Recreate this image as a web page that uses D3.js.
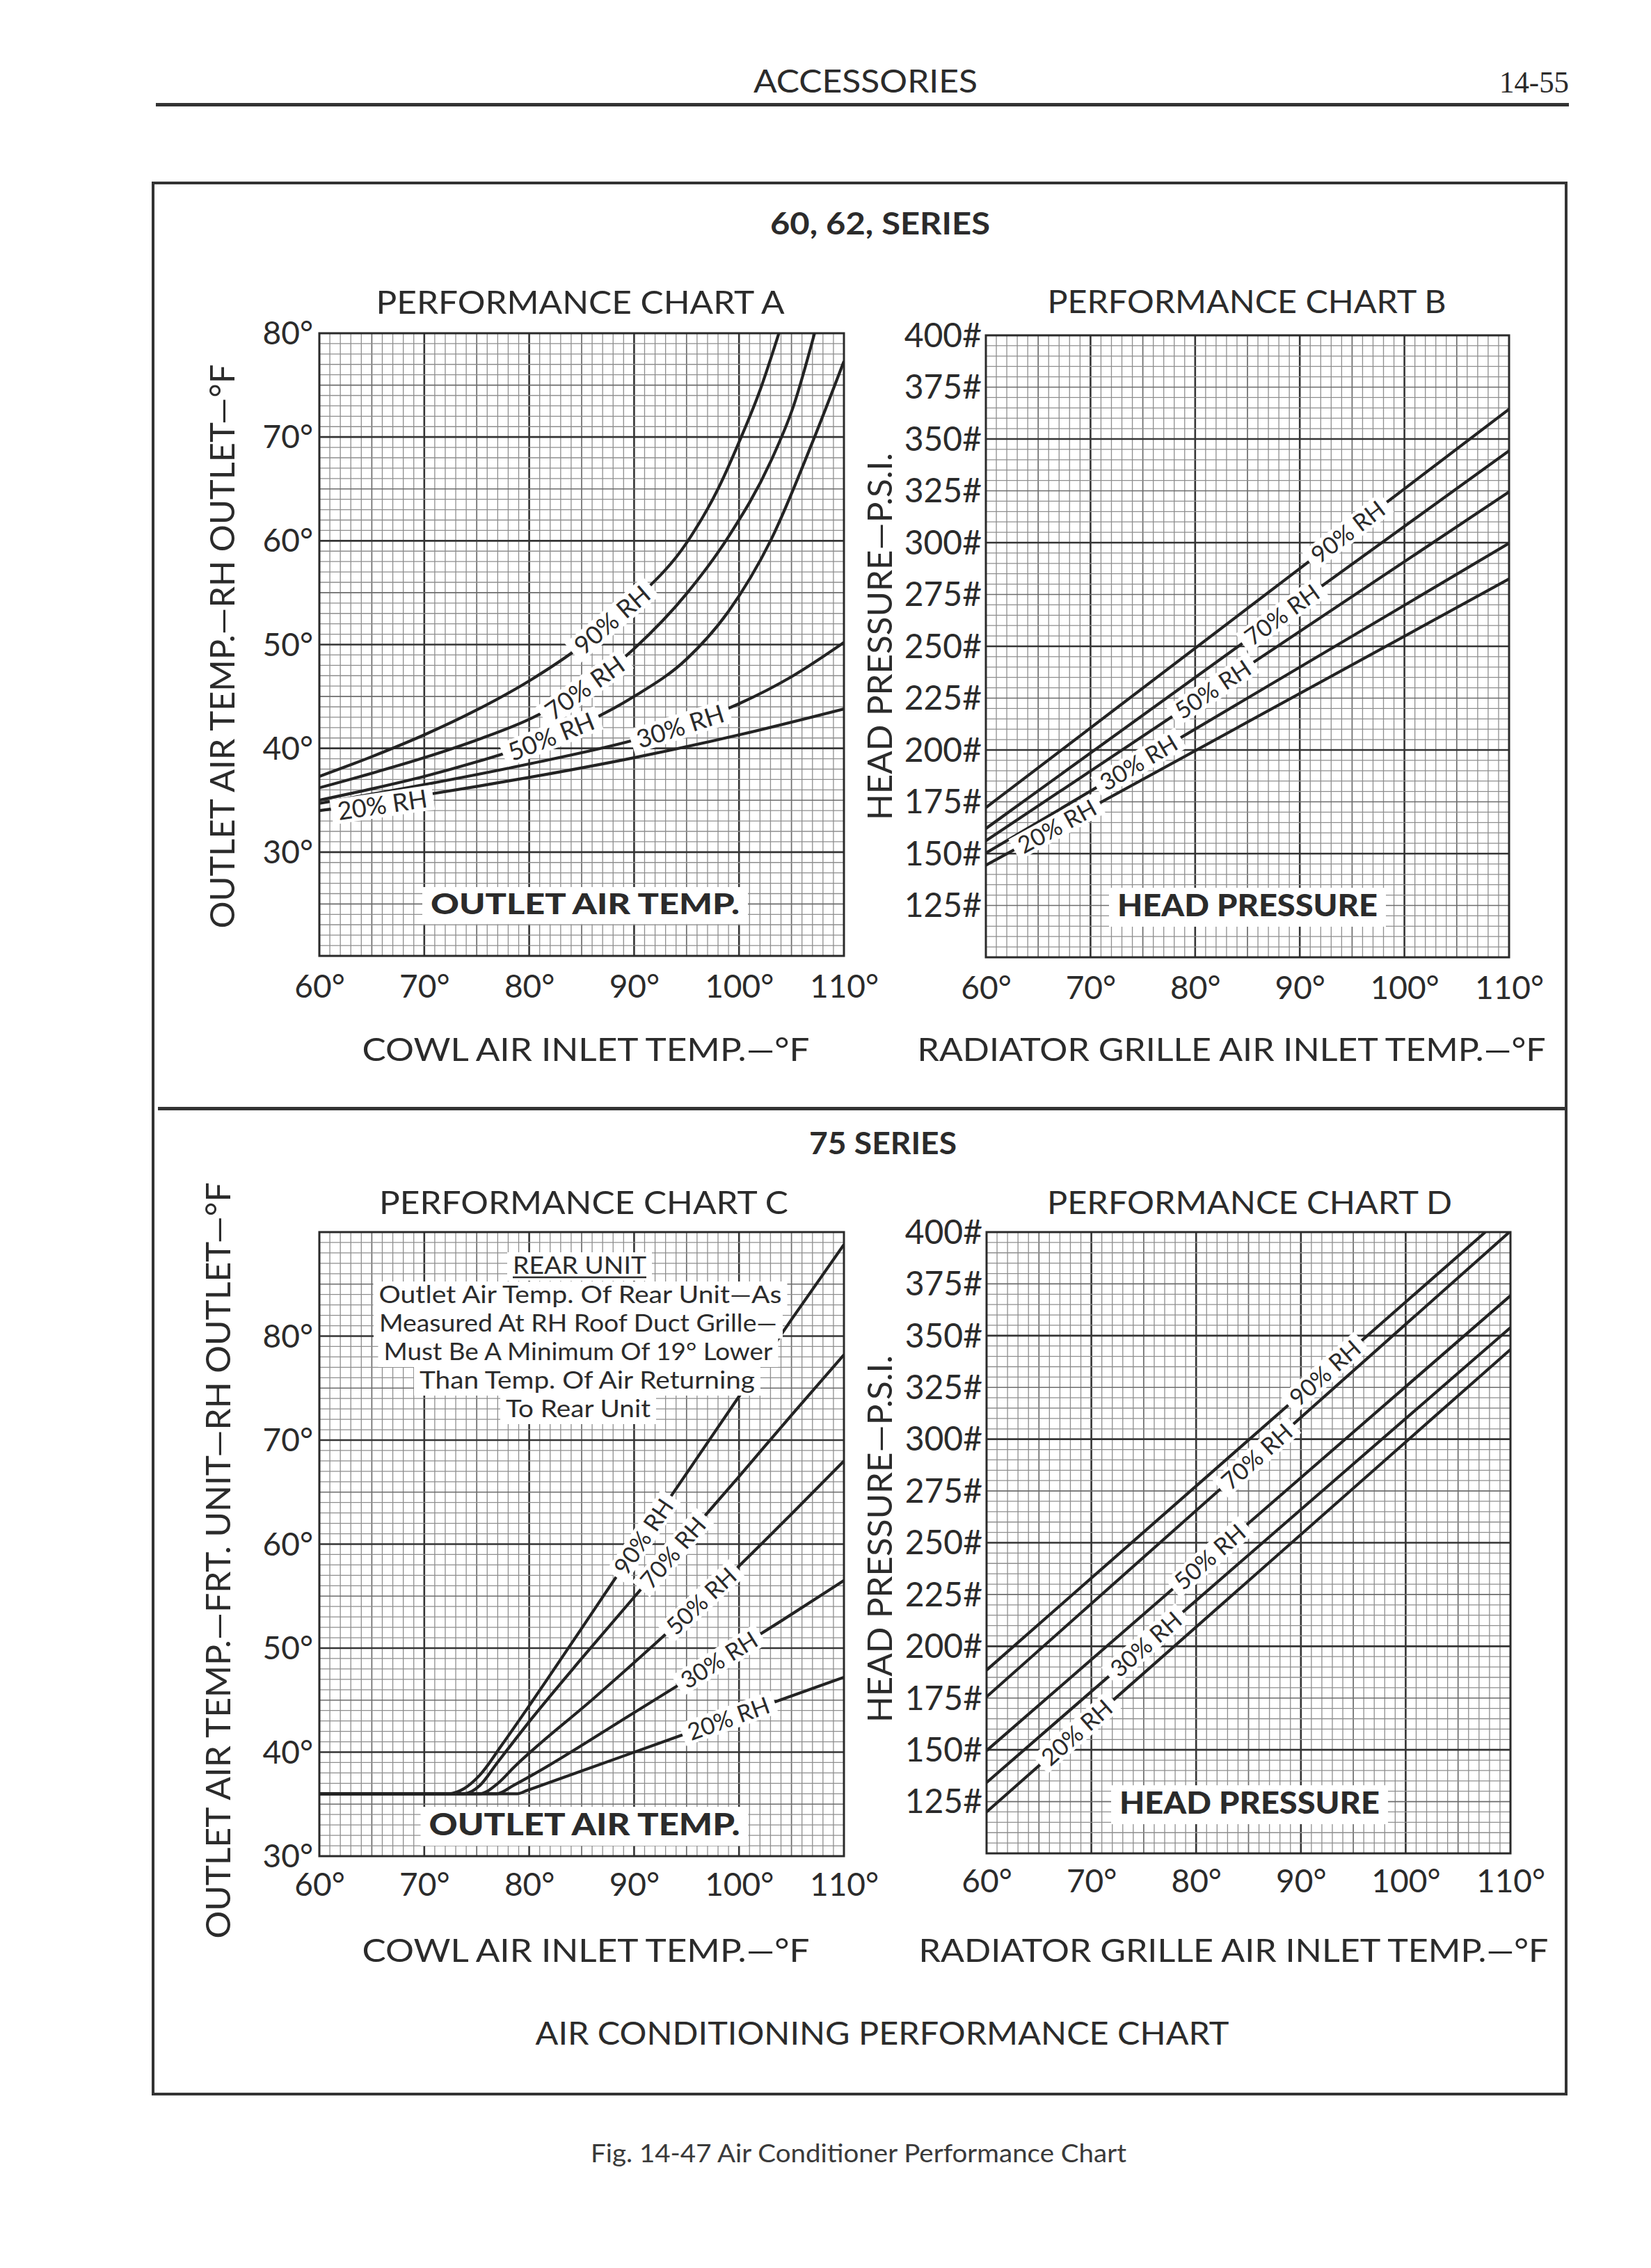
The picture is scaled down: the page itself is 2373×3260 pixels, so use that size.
<!DOCTYPE html>
<html>
<head>
<meta charset="utf-8">
<script src="https://cdn.jsdelivr.net/npm/d3@7"></script>
<style>
html,body{margin:0;padding:0;background:#fff;}
svg text{font-family:"Lato","Open Sans",sans-serif;fill:#2b2b2b;}
</style>
</head>
<body>
<svg id="page" width="2373" height="3260" xmlns="http://www.w3.org/2000/svg"></svg>
<script>
// ---------------- DATA ----------------
const xTicks = [60, 70, 80, 90, 100, 110];
const xTickLabels = ["60°", "70°", "80°", "90°", "100°", "110°"];
const tempTicks = [30, 40, 50, 60, 70, 80];
const tempTickLabels = ["30°", "40°", "50°", "60°", "70°", "80°"];
const pressTicks = [125, 150, 175, 200, 225, 250, 275, 300, 325, 350, 375, 400];
const pressTickLabels = ["125#", "150#", "175#", "200#", "225#", "250#", "275#", "300#", "325#", "350#", "375#", "400#"];
const rhNames = ["90% RH", "70% RH", "50% RH", "30% RH", "20% RH"];

// Chart A – outlet air temp (60, 62 series) [cowl inlet °F, outlet °F]
const a90 = [[60,37.3],[65,39.2],[70,41.3],[75,43.7],[80,46.5],[85,49.9],[90,54.2],[95,59.8],[98,65.0],[100,69.5],[102,74.5],[103.8,80]];
const a70 = [[60,36.2],[65,37.6],[70,39.1],[75,40.8],[80,42.8],[85,45.6],[90,49.6],[95,54.9],[99,60.4],[103,67.6],[105.2,73.0],[107.2,80]];
const a50 = [[60,35.0],[65,36.1],[70,37.3],[75,38.7],[80,40.3],[85,42.3],[90,45.0],[95,48.6],[99,53.2],[103,60.0],[107,69.5],[110,77.3]];
const a30 = [[60,34.7],[70,36.5],[80,38.5],[90,40.8],[95,42.3],[100,44.3],[105,46.9],[110,50.2]];
const a20 = [[60,34.0],[70,35.5],[80,37.2],[90,39.1],[100,41.3],[110,43.8]];
const aLabelAt = [87.9, 85.3, 82.1, 94.4, 66.0];

// Chart B – head pressure (60, 62 series) [grille inlet °F, psi]
const b90 = [[60,172.2],[110,364.4]];
const b70 = [[60,162.1],[110,344.3]];
const b50 = [[60,156.2],[110,324.5]];
const b30 = [[60,150.3],[110,299.7]];
const b20 = [[60,144.4],[110,282.5]];
const bLabelAt = [94.6, 88.3, 81.7, 74.6, 66.8];

// Chart C – outlet air temp (75 series)
const c90 = [[60,36],[72.3,36],[73.8,36.5],[75.3,37.8],[77.4,40.7],[80.3,44.9],[85,51.9],[90,59.4],[95,66.8],[100,74.2],[105,81.6],[110,88.8]];
const c70 = [[60,36],[73.8,36],[75.3,36.8],[76.9,38.9],[80.3,43.3],[85,49.0],[90,54.9],[95,60.7],[100,66.5],[105,72.4],[110,78.2]];
const c50 = [[60,36],[75.3,36],[76.9,36.9],[78.6,38.6],[86.3,45.3],[92.2,50.6],[100,57.9],[105,62.9],[110,68.0]];
const c30 = [[60,36],[76.9,36],[78.5,36.8],[80.3,37.8],[90,43.8],[98,48.8],[104,52.6],[110,56.5]];
const c20 = [[60,36],[78.9,36],[79.8,36.32],[94,41.44],[110,47.2]];
const cLabelAt = [90.9, 93.7, 96.4, 98.1, 99.0];

// Chart D – head pressure (75 series)
const d90 = [[60,188.5],[107.6,400]];
const d70 = [[60,175.6],[109.9,400]];
const d50 = [[60,149.6],[110,369.3]];
const d30 = [[60,134.2],[110,353.9]];
const d20 = [[60,120.0],[110,343.3]];
const dLabelAt = [92.3, 85.8, 81.3, 75.2, 68.6];

const noteTitle = "REAR UNIT";
const noteLines = ["Outlet Air Temp. Of Rear Unit—As", "Measured At RH Roof Duct Grille—", "Must Be A Minimum Of 19° Lower", "Than Temp. Of Air Returning", "To Rear Unit"];

// ---------------- DRAWING ----------------
const svg = d3.select("#page");
svg.append("rect").attr("width", 2373).attr("height", 3260).attr("fill", "#fff");

function fixedText(parent, s, cx, base, size, width, opts = {}) {
  const t = parent.append("text")
    .attr("x", cx).attr("y", base)
    .attr("text-anchor", opts.anchor || "middle")
    .style("font-size", size + "px")
    .style("font-weight", opts.weight || 400)
    .text(s);
  if (opts.family) t.style("font-family", opts.family);
  if (opts.fill) t.style("fill", opts.fill);
  if (width) t.attr("textLength", width).attr("lengthAdjust", "spacingAndGlyphs");
  return t;
}

function yAt(s, xv) {
  if (xv <= s[0][0]) return s[0][1];
  for (let k = 0; k < s.length - 1; k++) {
    const [xa, ya] = s[k], [xb, yb] = s[k + 1];
    if (xv >= xa && xv <= xb) return ya + (yb - ya) * (xv - xa) / (xb - xa);
  }
  return s[s.length - 1][1];
}

let clipId = 0;
function drawChart(c) {
  const x = d3.scaleLinear().domain([60, 110]).range([c.x0, c.x1]);
  const y = d3.scaleLinear().domain(c.yDomain).range([c.y1, c.y0]);
  const g = svg.append("g");

  // grid
  const level = (v, major, med) => (Math.abs(v % major) < 1e-6 ? 2 : (Math.abs(v % med) < 1e-6 ? 1 : 0));
  const sw = [1.3, 1.7, 2.6], sc = ["#8e8e8e", "#6c6c6c", "#353535"];
  const vx = d3.range(61, 110, 1).map(v => ({v, l: level(v - 60, 10, 5)})).sort((a, b) => a.l - b.l);
  const hy = d3.range(c.yDomain[0] + c.yStep, c.yDomain[1] - 0.001, c.yStep)
    .map(v => ({v, l: level(v, c.yMajor, c.yMed)})).sort((a, b) => a.l - b.l);
  const grid = g.append("g");
  grid.selectAll("line.v").data(vx).join("line").attr("class", "v")
    .attr("x1", d => x(d.v)).attr("x2", d => x(d.v)).attr("y1", c.y0).attr("y2", c.y1)
    .attr("stroke", d => sc[d.l]).attr("stroke-width", d => sw[d.l]);
  grid.selectAll("line.h").data(hy).join("line").attr("class", "h")
    .attr("y1", d => y(d.v)).attr("y2", d => y(d.v)).attr("x1", c.x0).attr("x2", c.x1)
    .attr("stroke", d => sc[d.l]).attr("stroke-width", d => sw[d.l]);
  g.append("rect").attr("x", c.x0).attr("y", c.y0).attr("width", c.x1 - c.x0).attr("height", c.y1 - c.y0)
    .attr("fill", "none").attr("stroke", "#2a2a2a").attr("stroke-width", 3);

  // curves
  const id = "clip" + (clipId++);
  svg.append("clipPath").attr("id", id).append("rect")
    .attr("x", c.x0).attr("y", c.y0).attr("width", c.x1 - c.x0).attr("height", c.y1 - c.y0);
  const line = d3.line().x(d => x(d[0])).y(d => y(d[1])).curve(c.curve);
  g.append("g").attr("clip-path", `url(#${id})`).selectAll("path").data(c.series).join("path")
    .attr("d", line).attr("fill", "none").attr("stroke", "#232323").attr("stroke-width", 4.2)
    .attr("stroke-linejoin", "round");

  // bold box label
  const bt = fixedText(g, c.boxText, c.box.cx, c.box.base, c.box.size, c.box.w, {weight: 900});
  const bb = bt.node().getBBox();
  g.insert("rect", () => bt.node()).attr("x", bb.x - 12).attr("y", c.box.base - c.box.size * 0.95)
    .attr("width", bb.width + 24).attr("height", c.box.size * 1.3).attr("fill", "#fff");

  // RH labels on the curves
  c.series.forEach((s, i) => {
    const xv = c.labelAt[i];
    const px = x(xv), py = y(yAt(s, xv)) + (c.labelDy ? c.labelDy[i] : 0);
    const xa = x(xv - 1), ya = y(yAt(s, xv - 1)), xb = x(xv + 1), yb = y(yAt(s, xv + 1));
    const ang = Math.atan2(yb - ya, xb - xa) * 180 / Math.PI;
    const lg = g.append("g").attr("transform", `translate(${px},${py}) rotate(${ang})`);
    const t = lg.append("text").attr("text-anchor", "middle").attr("dy", "0.36em")
      .style("font-size", c.labelSize + "px").text(rhNames[i]);
    const w = t.node().getComputedTextLength();
    lg.insert("rect", "text").attr("x", -w / 2 - 9).attr("y", -c.labelSize * 0.5)
      .attr("width", w + 18).attr("height", c.labelSize * 1.0).attr("fill", "#fff");
  });

  // axes (tick labels only)
  const ax = g.append("g").attr("transform", `translate(0,${c.y1})`)
    .call(d3.axisBottom(x).tickValues(xTicks).tickFormat((d, i) => xTickLabels[i]).tickSize(0));
  ax.select(".domain").remove();
  ax.attr("font-size", null).attr("font-family", null);
  ax.selectAll("text").attr("y", c.xLabOff).attr("dy", "0.36em").style("font-size", "46px");

  const ay = g.append("g").attr("transform", `translate(${c.x0},0)`)
    .call(d3.axisLeft(y).tickValues(c.yTicks).tickFormat((d, i) => c.yTickLabels[i]).tickSize(0));
  ay.select(".domain").remove();
  ay.attr("font-size", null).attr("font-family", null);
  ay.selectAll("text").attr("x", -c.yLabOff).attr("dy", "0.34em").style("font-size", c.yLabSize + "px");

  // titles
  fixedText(svg, c.title, c.titleC, c.titleBase, 47, c.titleW);
  fixedText(svg, c.xTitle, c.xTitleC, c.xTitleBase, 47, c.xTitleW);
  const yg = svg.append("g").attr("transform", `translate(${c.yTitleX},${c.yTitleC}) rotate(-90)`);
  fixedText(yg, c.yTitle, 0, 0, 48, c.yTitleW);
  return {x, y, g};
}

drawChart({
  x0: 459, x1: 1213, y0: 479, y1: 1374, yDomain: [20, 80], yStep: 1, yMajor: 10, yMed: 5,
  yTicks: tempTicks, yTickLabels: tempTickLabels, series: [a90, a70, a50, a30, a20],
  labelAt: aLabelAt, labelDy: [0, 0, 0, 0, 5], labelSize: 36, curve: d3.curveMonotoneX,
  boxText: "OUTLET AIR TEMP.", box: {cx: 841, base: 1314, w: 444, size: 41},
  title: "PERFORMANCE CHART A", titleC: 834, titleBase: 451, titleW: 587,
  xTitle: "COWL AIR INLET TEMP.—°F", xTitleC: 842, xTitleBase: 1525, xTitleW: 643,
  yTitle: "OUTLET AIR TEMP.—RH OUTLET—°F", yTitleX: 337, yTitleC: 929, yTitleW: 811,
  xLabOff: 43, yLabOff: 9, yLabSize: 46
});

drawChart({
  x0: 1417, x1: 2169, y0: 482, y1: 1376, yDomain: [100, 400], yStep: 5, yMajor: 50, yMed: 25,
  yTicks: pressTicks, yTickLabels: pressTickLabels, series: [b90, b70, b50, b30, b20],
  labelAt: bLabelAt, labelSize: 34, curve: d3.curveLinear,
  boxText: "HEAD PRESSURE", box: {cx: 1793, base: 1317, w: 374, size: 43},
  title: "PERFORMANCE CHART B", titleC: 1792, titleBase: 450, titleW: 573,
  xTitle: "RADIATOR GRILLE AIR INLET TEMP.—°F", xTitleC: 1770, xTitleBase: 1525, xTitleW: 903,
  yTitle: "HEAD PRESSURE—P.S.I.", yTitleX: 1282, yTitleC: 915, yTitleW: 528,
  xLabOff: 43, yLabOff: 6, yLabSize: 48
});

const chartC = drawChart({
  x0: 459, x1: 1213, y0: 1771, y1: 2668, yDomain: [30, 90], yStep: 1, yMajor: 10, yMed: 5,
  yTicks: tempTicks, yTickLabels: tempTickLabels, series: [c90, c70, c50, c30, c20],
  labelAt: cLabelAt, labelSize: 34, curve: d3.curveMonotoneX,
  boxText: "OUTLET AIR TEMP.", box: {cx: 840, base: 2638, w: 447, size: 43},
  title: "PERFORMANCE CHART C", titleC: 839, titleBase: 1745, titleW: 588,
  xTitle: "COWL AIR INLET TEMP.—°F", xTitleC: 842, xTitleBase: 2820, xTitleW: 643,
  yTitle: "OUTLET AIR TEMP.—FRT. UNIT—RH OUTLET—°F", yTitleX: 331, yTitleC: 2243, yTitleW: 1087,
  xLabOff: 40, yLabOff: 9, yLabSize: 46
});

drawChart({
  x0: 1418, x1: 2171, y0: 1771, y1: 2664, yDomain: [100, 400], yStep: 5, yMajor: 50, yMed: 25,
  yTicks: pressTicks, yTickLabels: pressTickLabels, series: [d90, d70, d50, d30, d20],
  labelAt: dLabelAt, labelSize: 34, curve: d3.curveLinear,
  boxText: "HEAD PRESSURE", box: {cx: 1796, base: 2607, w: 374, size: 43},
  title: "PERFORMANCE CHART D", titleC: 1796, titleBase: 1745, titleW: 582,
  xTitle: "RADIATOR GRILLE AIR INLET TEMP.—°F", xTitleC: 1773, xTitleBase: 2820, xTitleW: 905,
  yTitle: "HEAD PRESSURE—P.S.I.", yTitleX: 1282, yTitleC: 2212, yTitleW: 528,
  xLabOff: 39, yLabOff: 6, yLabSize: 48
});

// Rear unit note in chart C
(function () {
  const ng = chartC.g.append("g");
  const specs = [
    {s: noteTitle, cx: 833, base: 1831, w: 192},
    {s: noteLines[0], cx: 834, base: 1873, w: 579},
    {s: noteLines[1], cx: 831, base: 1914, w: 572},
    {s: noteLines[2], cx: 831, base: 1955, w: 559},
    {s: noteLines[3], cx: 844, base: 1996, w: 482},
    {s: noteLines[4], cx: 831, base: 2037, w: 208}
  ];
  specs.forEach((sp, i) => {
    const t = fixedText(ng, sp.s, sp.cx, sp.base, 34, sp.w);
    ng.insert("rect", () => t.node()).attr("x", sp.cx - sp.w / 2 - 8).attr("y", sp.base - 31)
      .attr("width", sp.w + 16).attr("height", 41).attr("fill", "#fff");
    if (i === 0) ng.append("line").attr("x1", sp.cx - sp.w / 2).attr("x2", sp.cx + sp.w / 2)
      .attr("y1", sp.base + 5).attr("y2", sp.base + 5).attr("stroke", "#2b2b2b").attr("stroke-width", 2.5);
  });
})();

// Page furniture
fixedText(svg, "ACCESSORIES", 1244, 133, 46, 322);
fixedText(svg, "14-55", 2155, 133, 44, 100, {anchor: "start", family: "'Liberation Serif', serif"});
svg.append("rect").attr("x", 224).attr("y", 148).attr("width", 2031).attr("height", 5).attr("fill", "#333");
svg.append("rect").attr("x", 220).attr("y", 263).attr("width", 2031).attr("height", 2747)
  .attr("fill", "none").attr("stroke", "#333").attr("stroke-width", 4);
svg.append("rect").attr("x", 227).attr("y", 1591).attr("width", 2024).attr("height", 5).attr("fill", "#333");
fixedText(svg, "60, 62, SERIES", 1265, 337, 44, 316, {weight: 700});
fixedText(svg, "75 SERIES", 1269, 1659, 44, 212, {weight: 700});
fixedText(svg, "AIR CONDITIONING PERFORMANCE CHART", 1268, 2939, 46, 997);
fixedText(svg, "Fig. 14-47  Air Conditioner Performance Chart", 1234, 3108, 36, 770, {fill: "#3a3a3a"});
</script>
</body>
</html>
